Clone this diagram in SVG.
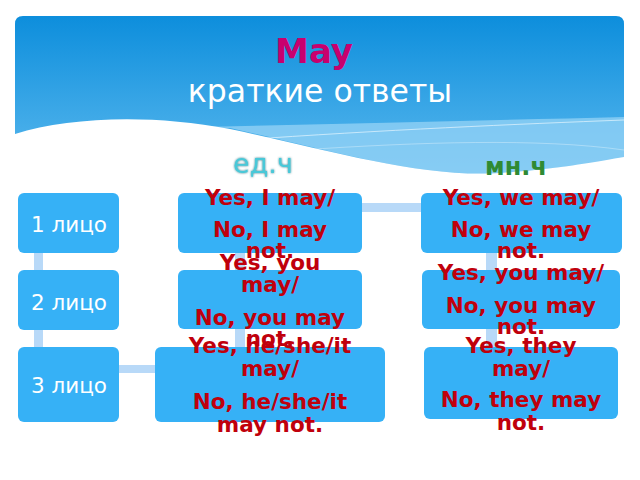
<svg xmlns="http://www.w3.org/2000/svg" width="640" height="480" viewBox="0 0 640 480">
<defs>
<linearGradient id="sky" x1="0" y1="0" x2="0" y2="1">
<stop offset="0" stop-color="#0d8edc"/>
<stop offset="1" stop-color="#62bdf0"/>
</linearGradient>
<filter id="glow" x="-20%" y="-20%" width="140%" height="140%">
<feGaussianBlur in="SourceAlpha" stdDeviation="1.2" result="b"/>
<feFlood flood-color="#0a5c6e" flood-opacity="0.8"/>
<feComposite in2="b" operator="in" result="g"/>
<feMerge><feMergeNode in="g"/><feMergeNode in="SourceGraphic"/></feMerge>
</filter>
</defs>
<style>
.box{fill:#36b1f6}
.conn{fill:#b8d9f8}
.lbl{font-family:"DejaVu Sans",sans-serif;font-size:21.5px;fill:#ffffff;text-anchor:middle}
.ans{font-family:"DejaVu Sans",sans-serif;font-size:21.5px;font-weight:bold;fill:#c0000c;text-anchor:middle}
</style>
<rect width="640" height="480" fill="#ffffff"/>
<g id="banner">
<path d="M15,24 Q15,16 23,16 H616 Q624,16 624,24 V190 H15 Z" fill="url(#sky)"/>
<path d="M190,127 C 350,124 500,120 624,117 L624,158 C 600,162 560,169 500,173 C 420,178 330,150 230,128 Z" fill="#95d3f6" opacity="0.75"/>
<path d="M240,140 C 380,130 520,124 624,120" fill="none" stroke="#e6f5fd" stroke-width="1" opacity="0.7"/>
<path d="M300,150 C 420,142 540,138 624,150" fill="none" stroke="#e6f5fd" stroke-width="0.8" opacity="0.5"/>
<path d="M15,134 C 70,117 150,114 230,129 C 330,150 420,178 500,173 C 560,169 600,161 624,157 L624,195 L15,195 Z" fill="#ffffff"/>
<text x="314" y="63" font-family="DejaVu Sans, sans-serif" font-size="34" font-weight="bold" fill="#c8006e" text-anchor="middle">May</text>
<text x="320" y="102" font-family="DejaVu Sans, sans-serif" font-size="31.5" fill="#ffffff" text-anchor="middle">краткие ответы</text>
</g>
<g id="headers">
<text x="263" y="173" font-family="DejaVu Sans, sans-serif" font-size="27" fill="#48c8d8" text-anchor="middle" filter="url(#glow)">ед.ч</text>
<text x="516" y="175" font-family="DejaVu Sans, sans-serif" font-size="24" font-weight="bold" fill="#2f8a33" text-anchor="middle">мн.ч</text>
</g>
<g id="connectors">
<rect class="conn" x="34" y="253" width="9" height="18"/>
<rect class="conn" x="34" y="330" width="9" height="18"/>
<rect class="conn" x="119" y="365" width="36" height="8"/>
<rect class="conn" x="235" y="253" width="10" height="17"/>
<rect class="conn" x="235" y="329" width="10" height="18"/>
<rect class="conn" x="362" y="203" width="59" height="9"/>
<rect class="conn" x="486" y="253" width="11" height="17"/>
<rect class="conn" x="486" y="329" width="11" height="18"/>
</g>
<g id="p1">
<rect class="box" x="18" y="193" width="101" height="60" rx="6"/>
<text class="lbl" x="69" y="232">1 лицо</text>
</g>
<g id="p2">
<rect class="box" x="18" y="270" width="101" height="60" rx="6"/>
<text class="lbl" x="69" y="310">2 лицо</text>
</g>
<g id="p3">
<rect class="box" x="18" y="347" width="101" height="75" rx="6"/>
<text class="lbl" x="69" y="393">3 лицо</text>
</g>
<g id="s1">
<rect class="box" x="178" y="193" width="184" height="60" rx="6"/>
</g>
<g id="s2">
<rect class="box" x="178" y="270" width="184" height="59" rx="6"/>
</g>
<g id="s3">
<rect class="box" x="155" y="347" width="230" height="75" rx="6"/>
</g>
<g id="m1">
<rect class="box" x="421" y="193" width="201" height="60" rx="6"/>
</g>
<g id="m2">
<rect class="box" x="422" y="270" width="198" height="59" rx="6"/>
</g>
<g id="m3">
<rect class="box" x="424" y="347" width="194" height="72" rx="6"/>
</g>
<g id="answers">
<text class="ans" x="270"><tspan x="270" y="205">Yes, I may/</tspan><tspan x="270" y="237">No, I may</tspan><tspan x="270" y="258">not.</tspan></text>
<text class="ans" x="270"><tspan x="270" y="270">Yes, you</tspan><tspan x="270" y="292">may/</tspan><tspan x="270" y="325">No, you may</tspan><tspan x="270" y="346">not.</tspan></text>
<text class="ans" x="270"><tspan x="270" y="353">Yes, he/she/it</tspan><tspan x="270" y="376">may/</tspan><tspan x="270" y="409">No, he/she/it</tspan><tspan x="270" y="432">may not.</tspan></text>
<text class="ans" x="521"><tspan x="521" y="205">Yes, we may/</tspan><tspan x="521" y="237">No, we may</tspan><tspan x="521" y="258">not.</tspan></text>
<text class="ans" x="521"><tspan x="521" y="280">Yes, you may/</tspan><tspan x="521" y="313">No, you may</tspan><tspan x="521" y="334">not.</tspan></text>
<text class="ans" x="521"><tspan x="521" y="353">Yes, they</tspan><tspan x="521" y="376">may/</tspan><tspan x="521" y="407">No, they may</tspan><tspan x="521" y="430">not.</tspan></text>
</g>
</svg>
